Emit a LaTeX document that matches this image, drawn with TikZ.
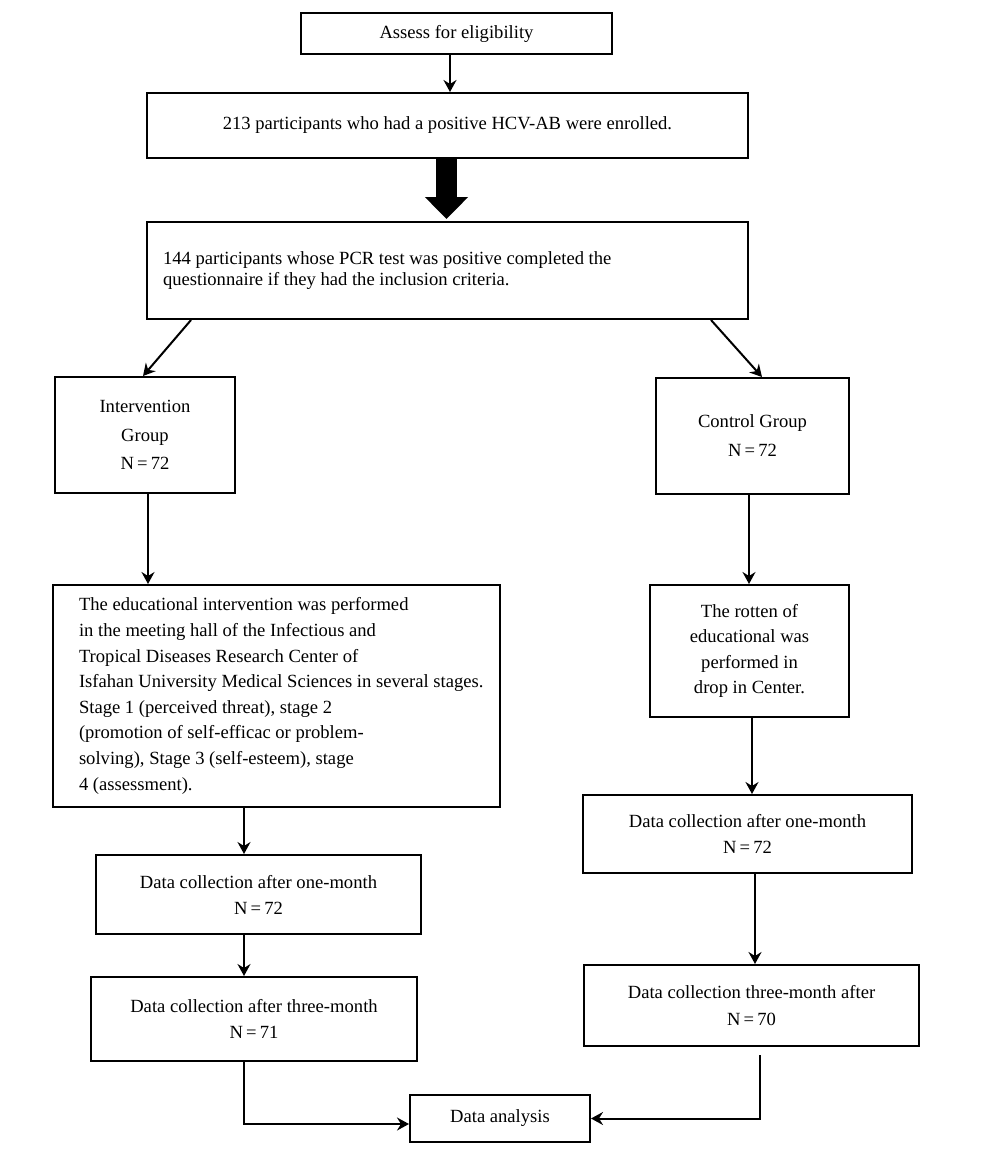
\documentclass[tikz,border=0pt]{standalone}
\usepackage{fontspec}
\setmainfont{Liberation Serif}
\usetikzlibrary{arrows.meta,calc}
\tikzset{
  box/.style={draw, line width=2pt, inner sep=0pt, align=flush center},
  fs/.style={font=\fontsize{18.6}{#1}\selectfont},
  arr/.style={line width=2pt, -{Stealth[length=12pt,width=13pt,inset=4pt]}},
  thickarr/.style={line width=21pt, -{Triangle[length=22pt,width=42pt]}, shorten >=2pt},
  plain/.style={line width=2pt}
}
\begin{document}
\begin{tikzpicture}[x=1pt,y=-1pt]
\useasboundingbox (0,0) rectangle (1000,1154);
% boxes
\node[box, fs=22, minimum width=311pt, minimum height=41pt] (assess) at (456.5,33.5) {Assess for eligibility};
\node[box, fs=22, minimum width=601pt, minimum height=65pt] (enrol) at (447.5,125.5) {213 participants who had a positive HCV-AB were enrolled.};
\node[box, fs=21, minimum width=601pt, minimum height=97pt, align=flush left, text width=569pt] (pcr) at (447.5,270.5) {144 participants whose PCR test was positive completed the\\questionnaire if they had the inclusion criteria.};
\node[box, fs=28.5, minimum width=180pt, minimum height=116pt] (int) at (145,435) {Intervention\\Group\\N\,=\,72};
\node[box, fs=29, minimum width=193pt, minimum height=116pt] (ctrl) at (752.5,436) {Control Group\\N\,=\,72};
\node[box, fs=25.6, minimum width=447pt, minimum height=222pt, align=flush left, text width=395pt] (edu) at (276.5,696) {The educational intervention was performed\\in the meeting hall of the Infectious and\\Tropical Diseases Research Center of\\\mbox{Isfahan University Medical Sciences in several stages.}\\Stage 1 (perceived threat), stage 2\\(promotion of self-efficac or problem-\\solving), Stage 3 (self-esteem), stage\\4 (assessment).};
\node[box, fs=25.3, minimum width=199pt, minimum height=132pt] (rot) at (749.5,651) {The rotten of\\educational was\\performed in\\drop in Center.};
\node[box, fs=26, minimum width=325pt, minimum height=79pt] (dconeL) at (258.5,894.5) {Data collection after one-month\\N\,=\,72};
\node[box, fs=26, minimum width=326pt, minimum height=84pt] (dcthreeL) at (254,1019) {Data collection after three-month\\N\,=\,71};
\node[box, fs=26, minimum width=329pt, minimum height=78pt] (dconeR) at (747.5,834) {Data collection after one-month\\N\,=\,72};
\node[box, fs=27, minimum width=335pt, minimum height=81pt] (dcthreeR) at (751.5,1005.5) {Data collection three-month after\\N\,=\,70};
\node[box, fs=22, minimum width=180pt, minimum height=47pt] (da) at (500,1118.5) {Data analysis};
% helper x positions
\coordinate (xa) at (450,0);
\coordinate (xt) at (446.5,0);
\coordinate (xl) at (148,0);
\coordinate (xm) at (244,0);
\coordinate (xr1) at (749,0);
\coordinate (xr2) at (752,0);
\coordinate (xr3) at (755,0);
\coordinate (rstart) at (760,1055);
% connectors
\draw[arr] (assess.south -| xa) -- (enrol.north -| xa);
\draw[thickarr] (enrol.south -| xt) -- (pcr.north -| xt);
\draw[arr] ($(pcr.south west)+(45,0)$) -- ($(int.north)+(-2,0)$);
\draw[arr] ($(pcr.south east)+(-38,0)$) -- ($(ctrl.north)+(9.5,0)$);
\draw[arr] (int.south -| xl) -- (edu.north -| xl);
\draw[arr] (edu.south -| xm) -- (dconeL.north -| xm);
\draw[arr] (dconeL.south -| xm) -- (dcthreeL.north -| xm);
\draw[arr] (dcthreeL.south -| xm) |- ($(da.west)+(0,5.5)$);
\draw[arr] (ctrl.south -| xr1) -- (rot.north -| xr1);
\draw[arr] (rot.south -| xr2) -- (dconeR.north -| xr2);
\draw[arr] (dconeR.south -| xr3) -- (dcthreeR.north -| xr3);
\draw[arr] (rstart) |- (da.east);
\end{tikzpicture}
\end{document}
